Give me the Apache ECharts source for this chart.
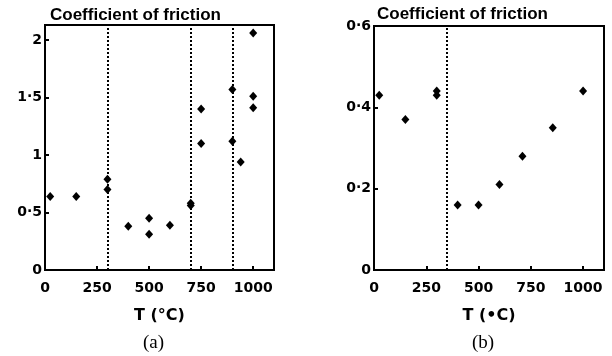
<!DOCTYPE html>
<html><head><meta charset="utf-8">
<script src="https://cdn.jsdelivr.net/npm/echarts@6/dist/echarts.min.js"></script>
<style>html,body{margin:0;padding:0;background:#fff}#c{width:612px;height:356px}</style>
</head><body><div id="c"></div>
<script>
// Panel (a)
const tempA = [25, 150, 300, 300, 400, 500, 500, 600, 700, 700, 750, 750, 900, 900, 940, 1000, 1000, 1000];
const cofA  = [0.64, 0.64, 0.79, 0.70, 0.38, 0.45, 0.31, 0.39, 0.56, 0.58, 1.40, 1.10, 1.57, 1.12, 0.94, 2.06, 1.51, 1.41];
const linesA = [300, 700, 900];
// Panel (b)
const tempB = [25, 150, 300, 300, 400, 500, 600, 710, 855, 1000];
const cofB  = [0.43, 0.37, 0.44, 0.43, 0.16, 0.16, 0.21, 0.28, 0.35, 0.44];
const linesB = [350];
const xTicks = [0, 250, 500, 750, 1000];
const titleText = 'Coefficient of friction';
const xNameA = 'T (°C)';
const xNameB = 'T (•C)';
const captions = ['(a)', '(b)'];

const F = 'DejaVu Sans';
function fmt(v){ if (Math.abs(v) < 1e-9) return '0'; const s = (Math.round(v*10)/10); return (s % 1 === 0 ? String(s) : s.toFixed(1)).replace('.', '·'); }

const chart = echarts.init(document.getElementById('c'), null, {renderer:'canvas'});
function xAxis(idx, name){
  return {type:'value', gridIndex:idx, min:0, max:1100, interval:250,
    axisLine:{show:true, onZero:false, lineStyle:{color:'#000', width:2}},
    axisTick:{show:true, inside:true, length:4, lineStyle:{color:'#000', width:2}},
    axisLabel:{show:true, showMaxLabel:false, color:'#000', fontFamily:F, fontSize:14, fontWeight:'bold', margin:11,
      formatter: v => xTicks.includes(v) ? String(v) : ''},
    splitLine:{show:false},
    name:name, nameLocation:'middle', nameGap:38, nameTextStyle:{color:'#000', fontFamily:F, fontSize:16, fontWeight:'bold'}};
}
function yAxis(idx, max, interval){
  return {type:'value', gridIndex:idx, min:0, max:max, interval:interval,
    axisLine:{show:true, onZero:false, lineStyle:{color:'#000', width:2}},
    axisTick:{show:true, inside:true, length:4, lineStyle:{color:'#000', width:2}},
    axisLabel:{show:true, color:'#000', fontFamily:F, fontSize:14, fontWeight:'bold', margin:3, formatter:fmt,
      showMaxLabel: idx === 1},
    splitLine:{show:false}};
}
function markLines(vals){
  return {symbol:'none', silent:true, label:{show:false},
    lineStyle:{color:'#000', type:[2,2], width:2, opacity:1},
    data: vals.map(v => ({xAxis:v}))};
}
const TS = {fontFamily:'Liberation Sans', fontSize:17, fontWeight:'bold', color:'#000'};
chart.setOption({
  animation:false,
  backgroundColor:'#fff',
  grid:[
    {left:45, top:25, width:229, height:245, show:true, borderColor:'#000', borderWidth:2},
    {left:374, top:26, width:230, height:244, show:true, borderColor:'#000', borderWidth:2}
  ],
  title:[
    {text:titleText, left:45, top:2, textStyle:TS},
    {text:titleText, left:372, top:1, textStyle:TS},
    {text:captions[0], left:138, top:329, textStyle:{fontFamily:'Liberation Serif', fontSize:19, fontWeight:'normal', color:'#000'}},
    {text:captions[1], left:467, top:329, textStyle:{fontFamily:'Liberation Serif', fontSize:19, fontWeight:'normal', color:'#000'}}
  ],
  xAxis:[xAxis(0, xNameA), xAxis(1, xNameB)],
  yAxis:[yAxis(0, 2.13, 0.5), yAxis(1, 0.6, 0.2)],
  series:[
    {type:'scatter', xAxisIndex:0, yAxisIndex:0, symbol:'diamond', symbolSize:[8,9],
      itemStyle:{color:'#000', opacity:1}, data: tempA.map((t,i)=>[t, cofA[i]]), markLine: markLines(linesA)},
    {type:'scatter', xAxisIndex:1, yAxisIndex:1, symbol:'diamond', symbolSize:[8,9],
      itemStyle:{color:'#000', opacity:1}, data: tempB.map((t,i)=>[t, cofB[i]]), markLine: markLines(linesB)}
  ]
});
</script></body></html>
